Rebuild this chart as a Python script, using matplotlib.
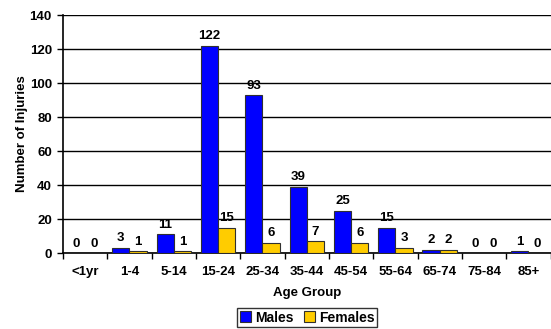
import numpy as np
import matplotlib.pyplot as plt

age_groups = ["<1yr", "1-4", "5-14", "15-24", "25-34", "35-44", "45-54",
              "55-64", "65-74", "75-84", "85+"]
males = [0, 3, 11, 122, 93, 39, 25, 15, 2, 0, 1]
females = [0, 1, 1, 15, 6, 7, 6, 3, 2, 0, 0]

plt.rcParams['font.family'] = ['Liberation Sans', 'DejaVu Sans']
plt.rcParams['font.weight'] = 'bold'
fs = 9.5

fig = plt.figure(figsize=(5.51, 3.29), dpi=100)
ax = fig.add_axes([0.1143, 0.231, 0.885, 0.723])

x = np.arange(len(age_groups))
w = 0.39
bm = ax.bar(x - w / 2, males, w, color='#0000FF', edgecolor='#303030',
            linewidth=0.8, label='Males', zorder=3)
bf = ax.bar(x + w / 2, females, w, color='#FFCC00', edgecolor='#303030',
            linewidth=0.8, label='Females', zorder=3)

for bars in (bm, bf):
    for b in bars:
        h = b.get_height()
        ax.annotate(f'{int(h)}', (b.get_x() + b.get_width() / 2, h),
                    xytext=(0, 2.5), textcoords='offset points',
                    ha='center', va='bottom', fontsize=fs, fontweight='bold')

ax.set_xlim(-0.5, len(age_groups) - 0.5)
ax.set_ylim(0, 140)
ax.set_yticks(range(0, 141, 20))
ax.yaxis.grid(True, color='black', linewidth=1, zorder=0)
ax.set_xticks(x)
ax.set_xticklabels(age_groups, fontsize=fs, fontweight='bold')
ax.set_xticks(np.arange(-0.5, len(age_groups), 1), minor=True)
ax.tick_params(axis='x', which='major', length=0, pad=9)
ax.tick_params(axis='x', which='minor', length=4, width=1, color='black')
ax.tick_params(axis='y', labelsize=fs, length=4, width=1, pad=4)
for lbl in ax.get_yticklabels():
    lbl.set_fontweight('bold')

for s in ('top', 'right'):
    ax.spines[s].set_visible(False)
for s in ('left', 'bottom'):
    ax.spines[s].set_linewidth(1.2)
    ax.spines[s].set_color('black')

ax.set_xlabel('Age Group', fontsize=fs, fontweight='bold', labelpad=7)
ax.set_ylabel('Number of Injuries', fontsize=fs, fontweight='bold')
ax.yaxis.set_label_coords(-0.072, 0.5)

leg = fig.legend(handles=[bm, bf], loc='lower center', ncol=2,
                 bbox_to_anchor=(0.558, -0.016), frameon=True, fancybox=False,
                 edgecolor='black', fontsize=fs + 0.5, handlelength=0.8,
                 handleheight=0.8, handletextpad=0.3, columnspacing=0.7,
                 borderpad=0.2)
leg.get_frame().set_linewidth(1)

fig.savefig('out.png', dpi=100)
